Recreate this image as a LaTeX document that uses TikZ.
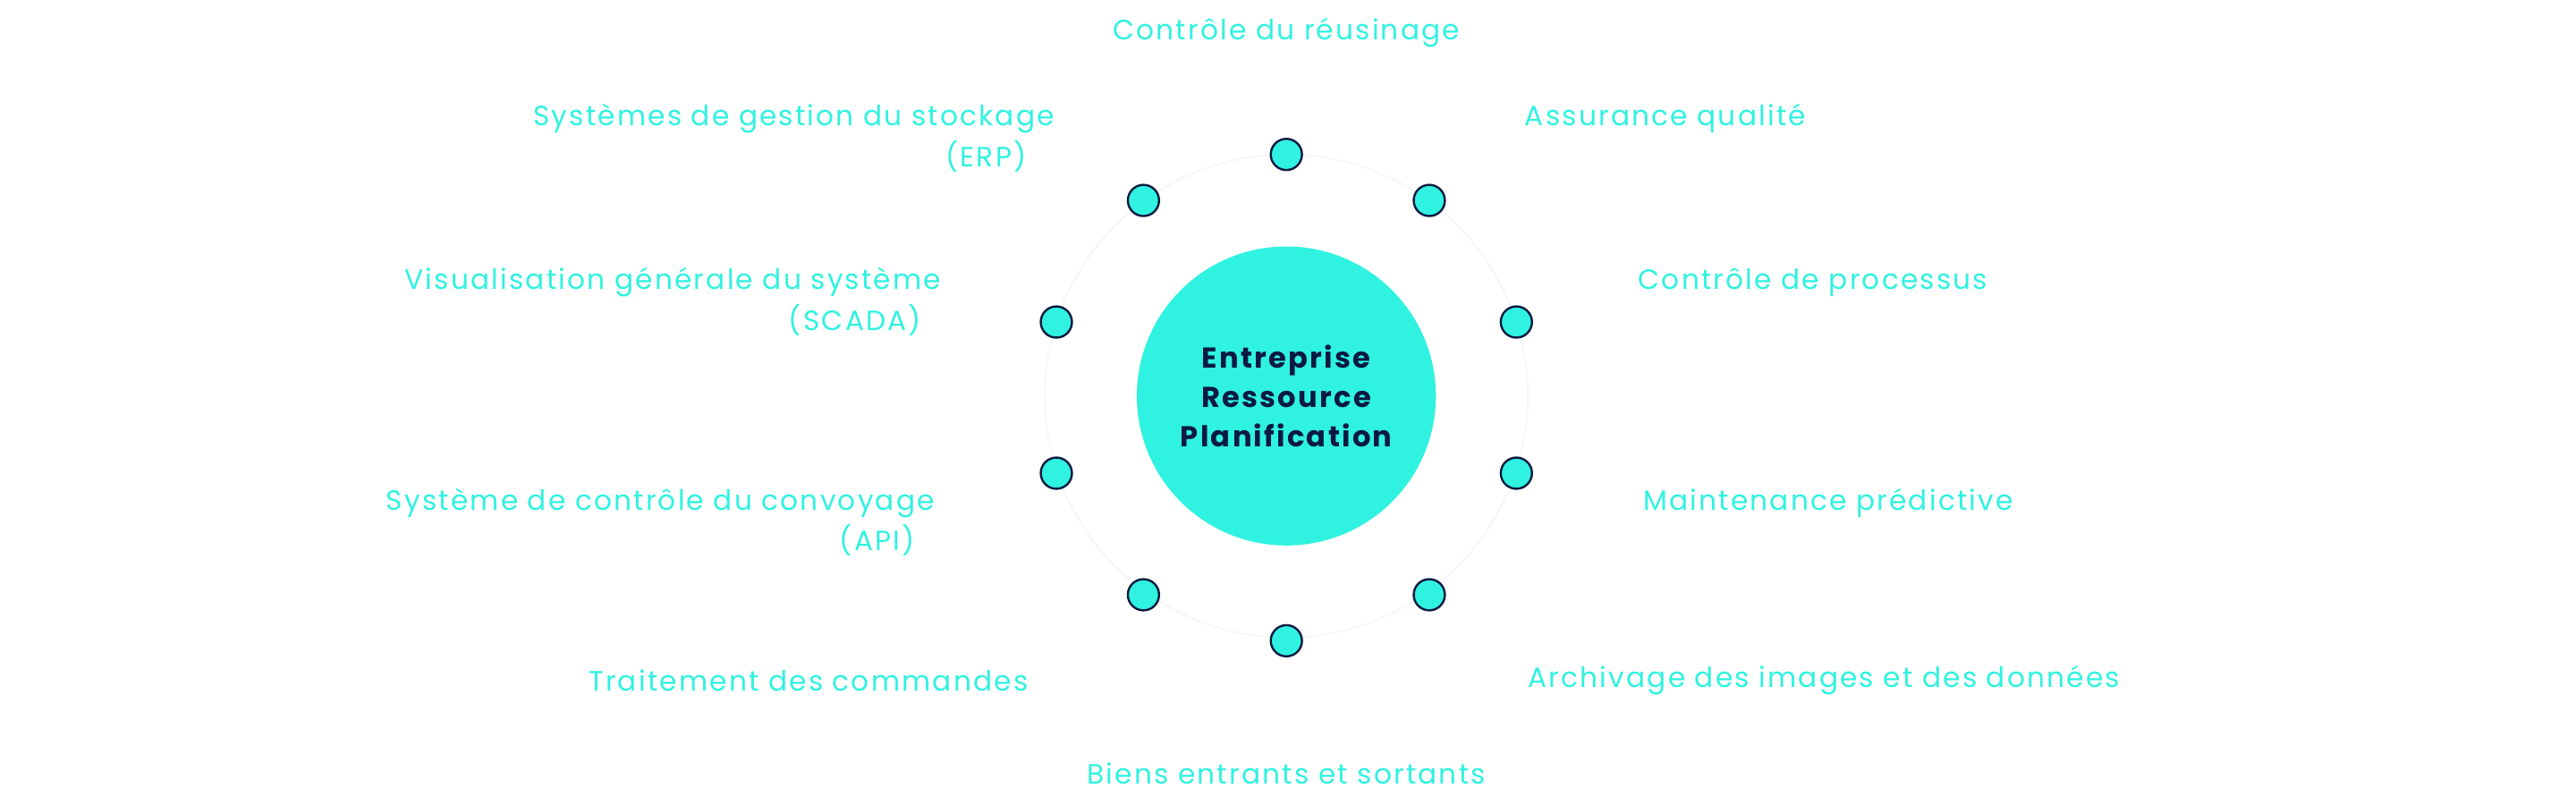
\documentclass[tikz,border=0pt]{standalone}
\usepackage{fontspec}
\setmainfont{Poppins}[LetterSpace=7]
\usetikzlibrary{positioning}
\definecolor{erpcyan}{RGB}{48, 242, 224}
\definecolor{erpnavy}{RGB}{10, 26, 64}
\definecolor{erpring}{RGB}{245, 246, 248}

\begin{document}
\begin{tikzpicture}[
    x=1pt, y=-1pt,
    hub/.style={
        circle,
        fill=erpcyan,
        minimum size=182pt,
        align=center,
        text=erpnavy,
        font=\fontsize{17.5}{24}\selectfont\bfseries
    },
    dot/.style={
        circle,
        draw=erpnavy,
        fill=erpcyan,
        line width=1.3pt,
        minimum size=19pt,
        inner sep=0pt
    },
    label/.style={
        text=erpcyan,
        font=\fontsize{17}{22}\selectfont,
        inner sep=0pt
    }
]

% Canvas
\useasboundingbox (0,0) rectangle (1568,485);

% Faint ring
\draw[erpring, line width=1pt] (783,241) circle (147);

% Hub
\node[hub] (erp) at (783,241) {Entreprise\\Ressource\\Planification};

% Dots
\node[dot] (top) at (783,94) {};
\node[dot] (topleft) at (696,122) {};
\node[dot] (topright) at (870,122) {};
\node[dot] (upleft) at (643,196) {};
\node[dot] (upright) at (923,196) {};
\node[dot] (lowleft) at (643,288) {};
\node[dot] (lowright) at (923,288) {};
\node[dot] (botleft) at (696,362) {};
\node[dot] (botright) at (870,362) {};
\node[dot] (bottom) at (783,390) {};

% Labels
\node[label] (rework) at (783,20) {Contrôle du réusinage};
\node[label, anchor=east] (storage) at (642,72) {Systèmes de gestion du stockage};
\node[label, anchor=east] (storage2) at (625,95) {(ERP)};
\node[label, anchor=west] (quality) at (928,72) {Assurance qualité};
\node[label, anchor=east] (scada) at (573,172) {Visualisation générale du système};
\node[label, anchor=east] (scada2) at (561,195) {(SCADA)};
\node[label, anchor=west] (process) at (997,172) {Contrôle de processus};
\node[label, anchor=east] (convey) at (569,306) {Système de contrôle du convoyage};
\node[label, anchor=east] (convey2) at (557,329) {(API)};
\node[label, anchor=west] (maint) at (1000,306) {Maintenance prédictive};
\node[label, anchor=east] (orders) at (626,414) {Traitement des commandes};
\node[label, anchor=west] (archive) at (930,414) {Archivage des images et des données};
\node[label] (goods) at (783,471) {Biens entrants et sortants};

\end{tikzpicture}
\end{document}
